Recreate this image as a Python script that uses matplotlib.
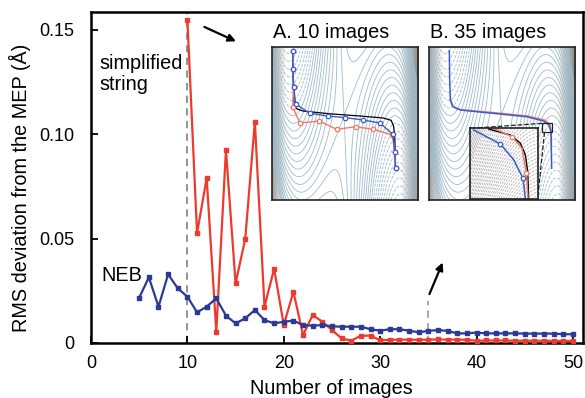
import matplotlib
matplotlib.use("Agg")
import matplotlib.pyplot as plt
import numpy as np

plt.rcParams['font.family'] = ['Liberation Sans', 'DejaVu Sans']

# main series
neb_n = list(range(5, 51))
neb_rms = [0.0217, 0.0315, 0.0174, 0.0329, 0.0262, 0.0222, 0.0147, 0.0174, 0.0214,
           0.0131, 0.0094, 0.0118, 0.0158, 0.0110, 0.0094, 0.0102, 0.0107, 0.0086,
           0.0083, 0.0086, 0.0080, 0.0078, 0.0078, 0.0078, 0.0066, 0.0059, 0.0066,
           0.0066, 0.0059, 0.0051, 0.0058, 0.0062, 0.0058, 0.0046, 0.0046, 0.0050,
           0.0046, 0.0046, 0.0046, 0.0046, 0.0045, 0.0045, 0.0045, 0.0045, 0.0042,
           0.0042]
str_n = list(range(10, 51))
str_rms = [0.155, 0.0526, 0.079, 0.0054, 0.0925, 0.0286, 0.0498, 0.106, 0.0174,
           0.0356, 0.0086, 0.0246, 0.0038, 0.0134, 0.0102, 0.0062, 0.0022, 0.0011,
           0.0035, 0.0035, 0.0013, 0.0015, 0.0016, 0.0016, 0.0015, 0.0016, 0.0017,
           0.0016, 0.0016, 0.0015, 0.0011, 0.0012, 0.0012, 0.0012, 0.0011, 0.0011,
           0.0011, 0.0011, 0.0010, 0.0010, 0.0010]

x_ticks = [0, 10, 20, 30, 40, 50]
y_ticks = [0, 0.05, 0.10, 0.15]
y_ticklabels = ['0', '0.05', '0.10', '0.15']

# inset paths (fractions of the inset box)
a_neb_u = [0.143, 0.145, 0.150, 0.164, 0.261, 0.382, 0.502, 0.623, 0.739, 0.827, 0.839, 0.845]
a_neb_v = [0.974, 0.854, 0.737, 0.626, 0.565, 0.548, 0.537, 0.522, 0.502, 0.428, 0.315, 0.207]
a_str_u = [0.143, 0.145, 0.150, 0.143, 0.193, 0.325, 0.443, 0.573, 0.693, 0.823, 0.839, 0.845]
a_str_v = [0.974, 0.854, 0.737, 0.607, 0.502, 0.515, 0.461, 0.478, 0.461, 0.424, 0.315, 0.207]
a_mep_u = [0.143, 0.146, 0.152, 0.170, 0.215, 0.400, 0.600, 0.760, 0.815, 0.832, 0.840, 0.845]
a_mep_v = [0.974, 0.800, 0.640, 0.595, 0.580, 0.562, 0.548, 0.535, 0.520, 0.480, 0.400, 0.207]

b_neb_u = [0.141, 0.143, 0.148, 0.166, 0.216, 0.443, 0.670, 0.784, 0.820, 0.834, 0.836, 0.839]
b_neb_v = [0.974, 0.793, 0.652, 0.609, 0.587, 0.565, 0.543, 0.515, 0.489, 0.446, 0.359, 0.207]
b_str_u = [0.148, 0.160, 0.190, 0.230, 0.443, 0.670, 0.790, 0.826, 0.836, 0.838]
b_str_v = [0.660, 0.614, 0.595, 0.588, 0.570, 0.548, 0.522, 0.495, 0.450, 0.350]

z_neb_u = [0.05, 0.446, 0.640, 0.782, 0.817]
z_neb_v = [0.976, 0.778, 0.560, 0.292, 0.0]
z_mep_u = [0.272, 0.594, 0.743, 0.817, 0.851, 0.866]
z_mep_v = [0.99, 0.906, 0.788, 0.623, 0.387, 0.0]
z_str_u = [0.371, 0.619, 0.767, 0.832, 0.856]
z_str_v = [0.99, 0.882, 0.717, 0.363, 0.0]

red = '#ee3a2c'
blue = '#2b3a94'
p_blue = '#3a5bd0'
p_red = '#f07a68'
fs = 14.3

fig = plt.figure(figsize=(5.85, 3.98), dpi=100)
ax = fig.add_axes([0.1556, 0.1382, 0.8410, 0.8316])

ax.plot(str_n, str_rms, '-s', color=red, lw=1.6, ms=2.5, zorder=3)
ax.plot(neb_n, neb_rms, '-s', color=blue, lw=1.6, ms=2.5, zorder=3)
ax.axvline(10, color='#8a8a8a', ls=(0, (4, 3)), lw=1.3, zorder=1)
ax.plot([35, 35], [0, 0.02], color='#8fa3b5', ls=(0, (4, 3)), lw=1.3, zorder=1)

arrow = dict(arrowstyle='-|>', color='black', lw=1.6, mutation_scale=11)
ax.annotate('', xy=(15.3, 0.1440), xytext=(11.5, 0.1520), arrowprops=arrow)
ax.annotate('', xy=(36.6, 0.0398), xytext=(35.0, 0.0222), arrowprops=arrow)

ax.text(0.85, 0.1385, 'simplified\nstring', fontsize=fs, va='top', ha='left',
        linespacing=1.15)
ax.text(1.1, 0.0325, 'NEB', fontsize=fs, va='center', ha='left')

ax.set_xlim(0, 51.05)
ax.set_ylim(0, 0.1586)
ax.set_xticks(x_ticks)
ax.set_yticks(y_ticks)
ax.set_yticklabels(y_ticklabels)
ax.tick_params(direction='in', length=5, width=1.3, labelsize=13)
ax.tick_params(axis='x', pad=9)
ax.tick_params(axis='y', pad=12)
for s in ax.spines.values():
    s.set_linewidth(1.8)

fig.text(0.034, 0.528, 'RMS deviation from the MEP (Å)', rotation=90,
         ha='center', va='center', fontsize=fs)
fig.text(0.5658, 0.025, 'Number of images', ha='center', va='center', fontsize=fs)

# potential surface for the insets
xmin, xmax = -1.416, 1.454
gx = np.linspace(xmin, xmax, 400)
gy = np.linspace(0, 1, 400)
X, Y = np.meshgrid(gx, gy)
V = 1.0 * (X**2 - 1)**2 + 2.0 * X * (Y - 0.55) + 0.3 * (Y - 0.55)**2

# gray walls on the two sides
wall = np.clip((np.abs(X + 0.02) - 1.12) / 0.3, 0, 1)
shade = np.zeros(X.shape + (4,))
shade[..., :3] = 0.45
shade[..., 3] = 0.75 * wall


def surface(a, x0, x1, y0, y1, levels, lc, lw):
    a.imshow(shade, extent=(xmin, xmax, 0, 1), origin='lower', aspect='auto',
             interpolation='bilinear', zorder=0)
    a.contour(X, Y, V, levels=levels, colors=lc, linewidths=lw, zorder=1)
    a.set_xlim(x0, x1)
    a.set_ylim(y0, y1)
    a.set_xticks([])
    a.set_yticks([])
    for s in a.spines.values():
        s.set_linewidth(1.2)
        s.set_color('#222222')


def ux(u, x0=xmin, x1=xmax):
    return [x0 + k * (x1 - x0) for k in u]


lev = np.arange(-1.0, 1.75, 0.1)

axa = fig.add_axes([0.4644, 0.4975, 0.2506, 0.3852])
surface(axa, xmin, xmax, 0, 1, lev, '#9dbccc', 0.6)
axa.plot(ux(a_mep_u), a_mep_v, color='black', lw=0.9)
axa.plot(ux(a_str_u), a_str_v, '-o', color=p_red, lw=1.0, ms=3.2,
         mfc='white', mew=0.9)
axa.plot(ux(a_neb_u), a_neb_v, '-o', color=p_blue, lw=1.0, ms=3.2,
         mfc='white', mew=0.9)
fig.text(0.4667, 0.905, 'A. 10 images', fontsize=fs)

axb = fig.add_axes([0.7328, 0.4975, 0.2506, 0.3852])
surface(axb, xmin, xmax, 0, 1, lev, '#9dbccc', 0.6)
axb.plot(ux(b_str_u), b_str_v, color=p_red, lw=1.1)
axb.plot(ux(b_neb_u), b_neb_v, color=p_blue, lw=1.1)
rx = ux([0.773, 0.841])
axb.add_patch(plt.Rectangle((rx[0], 0.441), rx[1] - rx[0], 0.059, fill=False,
                            ec='#222222', lw=0.9, zorder=4))
axb.plot(ux([0.773, 0.284]), [0.5, 0.467], color='#222222', ls='--', lw=0.9)
axb.plot(ux([0.790, 0.743]), [0.441, 0.007], color='#222222', ls='--', lw=0.9)
fig.text(0.7345, 0.905, 'B. 35 images', fontsize=fs)

axz = fig.add_axes([0.804, 0.5, 0.1152, 0.1776])
axz.set_facecolor('white')
surface(axz, rx[0], rx[1], 0.441, 0.5, np.arange(-1.0, 2.6, 0.006), '#a8a8a8', 0.5)
axz.plot(ux(z_mep_u, rx[0], rx[1]), [0.441 + 0.059 * v for v in z_mep_v],
         color='black', lw=1.0)
axz.plot(ux(z_str_u, rx[0], rx[1]), [0.441 + 0.059 * v for v in z_str_v], '-o',
         color=p_red, lw=1.1, ms=3.2, mfc='white', mew=0.9, markevery=[1, 3])
axz.plot(ux(z_neb_u, rx[0], rx[1]), [0.441 + 0.059 * v for v in z_neb_v], '-o',
         color=p_blue, lw=1.1, ms=3.2, mfc='white', mew=0.9, markevery=[1, 3])

fig.savefig('out.png', dpi=100)
